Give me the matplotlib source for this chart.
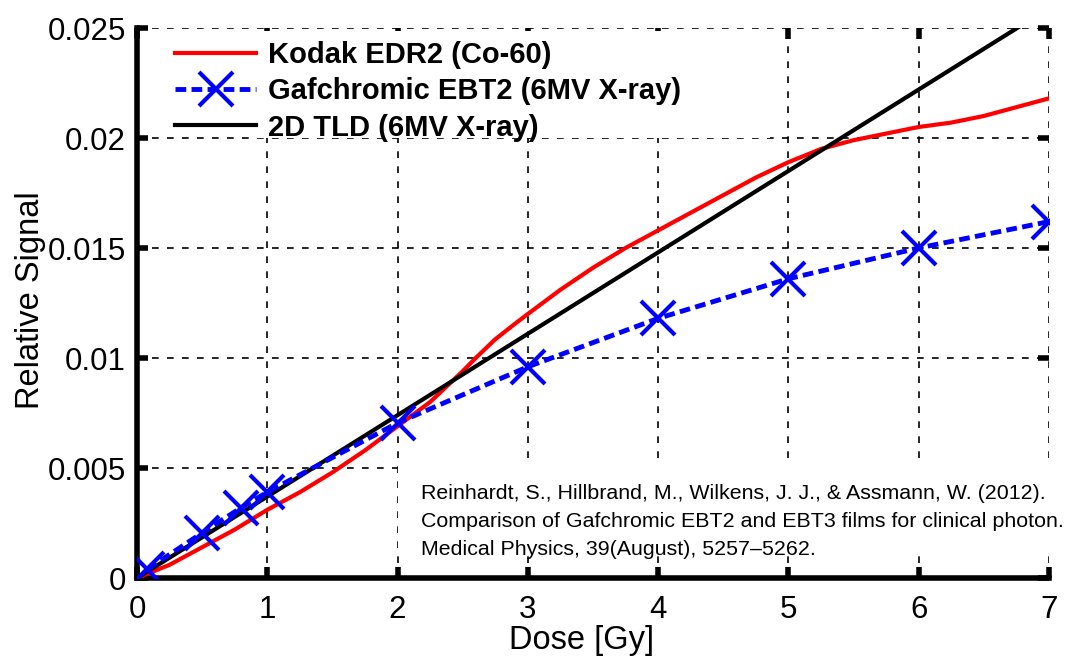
import matplotlib
matplotlib.use("Agg")
import matplotlib.pyplot as plt
from matplotlib.patches import Rectangle

plt.rcParams["font.family"] = ["Liberation Sans", "DejaVu Sans"]

# Kodak EDR2 (Co-60)
edr2_dose = [0, 0.25, 0.5, 0.75, 1.0, 1.25, 1.5, 1.75, 2.0, 2.25, 2.5, 2.6, 2.75,
             2.9, 3.0, 3.25, 3.5, 3.75, 4.0, 4.25, 4.5, 4.75, 5.0, 5.25, 5.5,
             5.75, 6.0, 6.25, 6.5, 6.75, 7.0]
edr2_sig = [0, 0.0006, 0.0014, 0.0022, 0.0031, 0.0039, 0.0048, 0.0058, 0.0069,
            0.0080, 0.0094, 0.0100, 0.01085, 0.01155, 0.0120, 0.0131, 0.0141,
            0.0150, 0.0158, 0.0166, 0.0174, 0.0182, 0.0189, 0.0195, 0.0199,
            0.0202, 0.0205, 0.0207, 0.0210, 0.0214, 0.0218]

# Gafchromic EBT2 (6MV X-ray)
ebt2_dose = [0.08, 0.5, 0.8, 1.0, 2.0, 3.0, 4.0, 5.0, 6.0, 7.0]
ebt2_sig = [0.0004, 0.00205, 0.0032, 0.0039, 0.00705, 0.0096, 0.0118, 0.0136, 0.0150, 0.0162]

# 2D TLD (6MV X-ray)
tld_dose = [0, 7.0]
tld_sig = [0, 0.0259]

xticks = [0, 1, 2, 3, 4, 5, 6, 7]
yticks = [0, 0.005, 0.01, 0.015, 0.02, 0.025]
ytick_labels = ["0", "0.005", "0.01", "0.015", "0.02", "0.025"]

citation = ("Reinhardt, S., Hillbrand, M., Wilkens, J. J., & Assmann, W. (2012).\n"
            "Comparison of Gafchromic EBT2 and EBT3 films for clinical photon.\n"
            "Medical Physics, 39(August), 5257\u20135262.")

fig = plt.figure(figsize=(10.67, 6.59), dpi=100)
ax = fig.add_axes([0.1284, 0.1229, 0.8546, 0.8346])

ax.plot(edr2_dose, edr2_sig, "-", color="#ff0000", lw=3, label="Kodak EDR2 (Co-60)", zorder=3)
ax.plot(ebt2_dose, ebt2_sig, linestyle=(0, (2.2, 1.1)), color="#0000ff", lw=3.5, marker="x",
        ms=24, mew=3, label="Gafchromic EBT2 (6MV X-ray)", zorder=4)
ax.plot(tld_dose, tld_sig, "-", color="black", lw=3, label="2D TLD (6MV X-ray)", zorder=3)

ax.set_xlim(0, 7)
ax.set_ylim(0, 0.025)
ax.set_xticks(xticks)
ax.set_yticks(yticks)
ax.set_yticklabels(ytick_labels)
ax.grid(True, linestyle=(0, (4, 5)), color="black", lw=1.2)
ax.set_axisbelow(True)

for s in ["top", "right"]:
    ax.spines[s].set_visible(False)
for s in ["left", "bottom"]:
    ax.spines[s].set_linewidth(4)
ax.tick_params(direction="in", length=8, width=4, labelsize=22.5, top=True, right=True)
ax.tick_params(axis="x", pad=12)
ax.tick_params(axis="y", pad=8)

ax.set_xlabel("Dose [Gy]", fontsize=23.5, va="center")
ax.xaxis.set_label_coords(0.487, -0.114)
ax.set_ylabel("Relative Signal", fontsize=23.5, va="center")
ax.yaxis.set_label_coords(-0.117, 0.505)

# white areas hiding the grid behind legend text and citation
ax.add_patch(Rectangle((0.129, 0.80), 0.565, 0.195, transform=ax.transAxes,
                       facecolor="white", edgecolor="none", zorder=1))
ax.add_patch(Rectangle((0.286, 0.042), 0.714, 0.163, transform=ax.transAxes,
                       facecolor="white", edgecolor="none", zorder=1))

leg = ax.legend(loc="upper left", bbox_to_anchor=(0.019, 1.013), prop={"weight": "bold", "size": 21},
                frameon=False, handlelength=2.8, handletextpad=0.4, labelspacing=0.28,
                borderpad=0.2)

ax.text(0.311, 0.102, citation, transform=ax.transAxes, fontsize=15.4, va="center", ha="left",
        linespacing=1.6, zorder=2)

fig.savefig("out.png", dpi=100)
